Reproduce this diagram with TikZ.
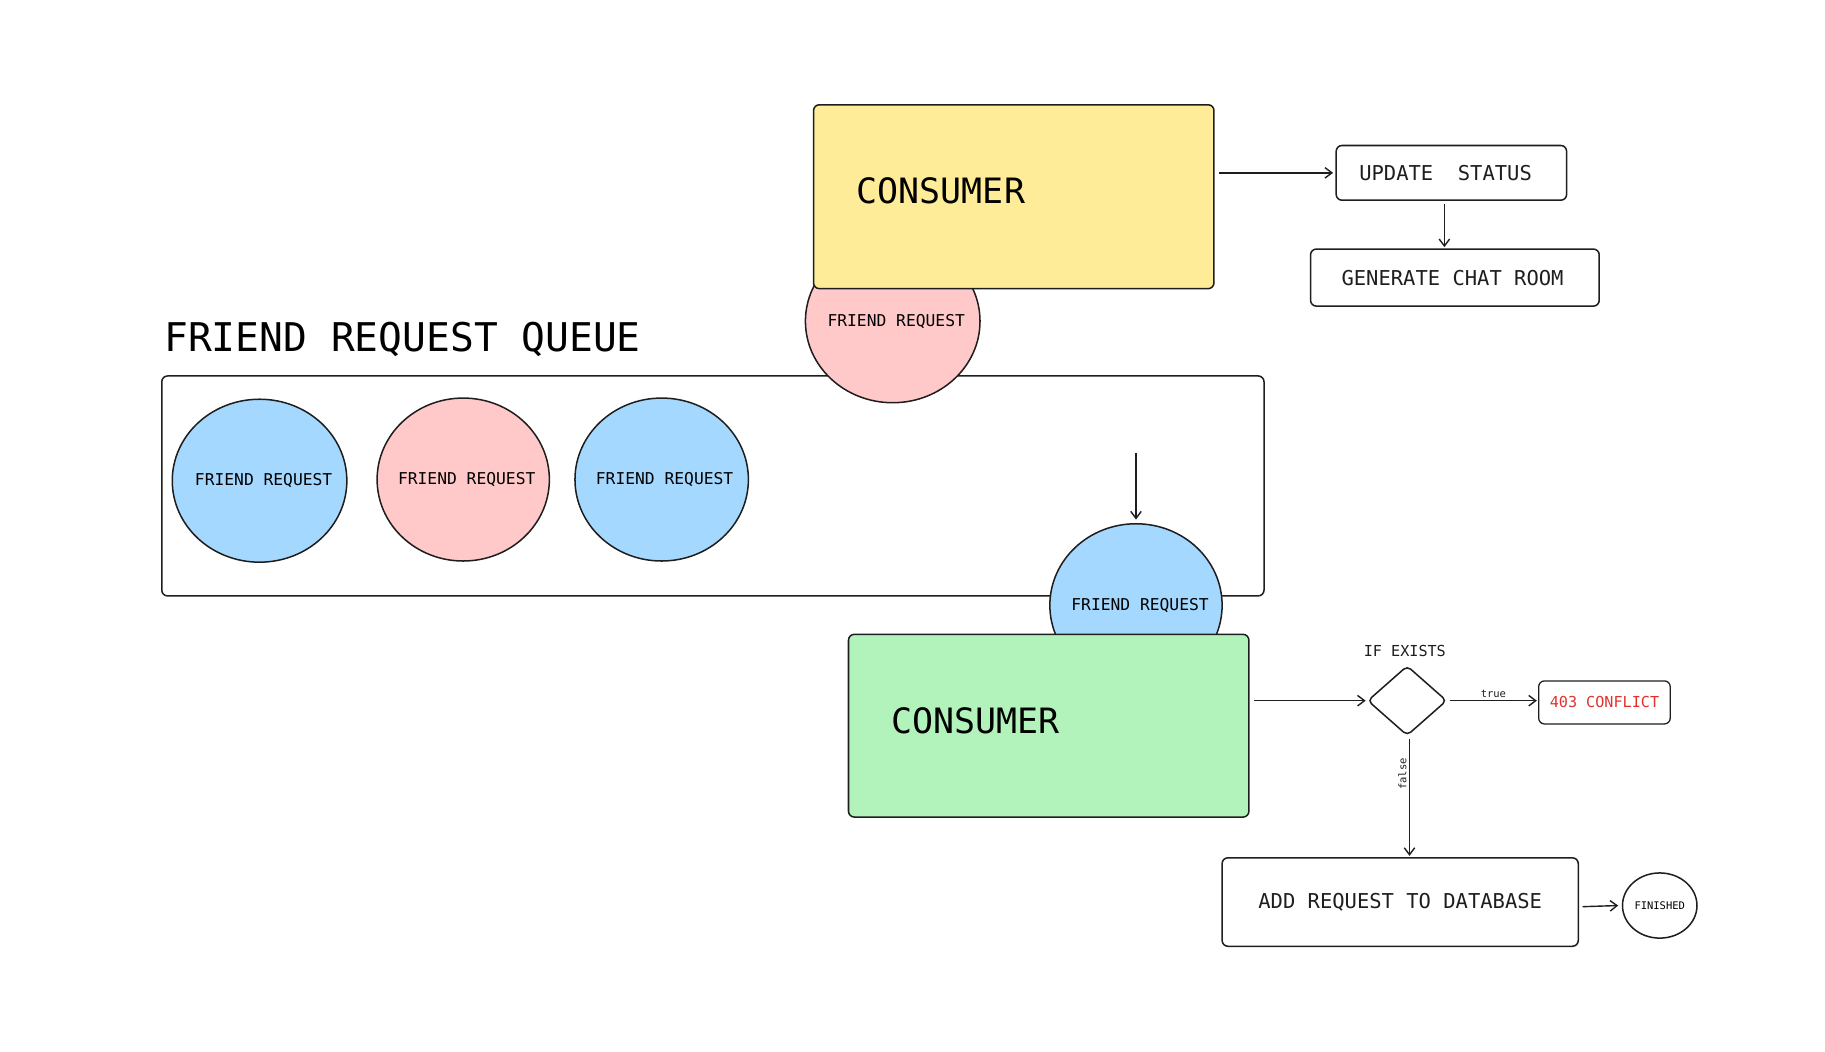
\documentclass[tikz,border=0pt]{standalone}
\usepackage{fontspec}
\setmainfont{DejaVu Sans Mono}
\usetikzlibrary{shapes.geometric,arrows.meta}
\definecolor{ink}{HTML}{1E1E1E}
\definecolor{qblue}{HTML}{A5D8FF}
\definecolor{qpink}{HTML}{FFC9C9}
\definecolor{qyellow}{HTML}{FFEC99}
\definecolor{qgreen}{HTML}{B2F2BB}
\definecolor{qred}{HTML}{E03131}
\begin{document}
\begin{tikzpicture}[x=1pt,y=-1pt,
  stroke/.style={draw=ink,line width=1.3pt},
  boxshape/.style={stroke,rectangle,rounded corners=5pt,inner sep=0pt,text=ink},
  bubble/.style={stroke,ellipse,inner sep=0pt,minimum height=140pt,text=black,
     font=\fontsize{14}{16}\selectfont},
  bigtext/.style={font=\fontsize{30}{36}\selectfont,text=black,inner sep=0pt},
  midtext/.style={font=\fontsize{17.6}{20}\selectfont},
  smalltext/.style={font=\fontsize{13}{15}\selectfont},
  tinytext/.style={font=\fontsize{9}{11}\selectfont,text=ink,inner sep=2pt},
  conn/.style={draw=ink,line width=1.2pt,-{Straight Barb[length=6pt,width=9pt]}}]
\useasboundingbox (0,0) rectangle (1568,903);

% queue container
\node[boxshape,minimum width=947pt,minimum height=189pt] (queue) at (612.5,417.5) {};
\node[font=\fontsize{34}{40}\selectfont,anchor=base west,inner sep=0pt] (title) at (141,302) {FRIEND REQUEST QUEUE};

% queued requests
\node[bubble,fill=qblue,minimum width=150pt] (r1) at (223,413) {\makebox[0pt]{\hspace{7pt}FRIEND REQUEST}};
\node[bubble,fill=qpink,minimum width=148pt] (r2) at (398,412) {\makebox[0pt]{\hspace{6pt}FRIEND REQUEST}};
\node[bubble,fill=qblue,minimum width=149pt] (r3) at (568.5,412) {\makebox[0pt]{\hspace{5pt}FRIEND REQUEST}};

% top consumer
\node[bubble,fill=qpink,minimum width=150pt] (rtop) at (767,276) {\makebox[0pt]{\hspace{6pt}FRIEND REQUEST}};
\node[boxshape,fill=qyellow,minimum width=344pt,minimum height=158pt] (cons1) at (871,169) {};
\node[bigtext,anchor=base west] (cons1t) at (736,175) {CONSUMER};

\node[boxshape,midtext,minimum width=198pt,minimum height=47pt] (upd) at (1247,148.5) {\hspace{-10pt}UPDATE\ \ STATUS};
\node[boxshape,midtext,minimum width=248pt,minimum height=49pt] (gen) at (1250,238.5) {\hspace{-4pt}GENERATE CHAT ROOM};

\draw[conn] ([xshift=4pt]cons1.east |- upd.west) -- ([xshift=-2pt]upd.west);
\draw[conn] ([xshift=-6pt,yshift=-3pt]upd.south) -- ([xshift=-6pt,yshift=1pt]upd.south |- gen.north);

% bottom consumer
\coordinate (dropstart) at (976,389);
\node[bubble,fill=qblue,minimum width=148pt] (rbot) at (976,520) {\makebox[0pt]{\hspace{7pt}FRIEND REQUEST}};
\draw[conn] (dropstart) -- ([yshift=3pt]rbot.north);
\node[boxshape,fill=qgreen,minimum width=344pt,minimum height=157pt] (cons2) at (901,623.5) {};
\node[bigtext,anchor=base west] (cons2t) at (766,630) {CONSUMER};

\node[stroke,diamond,rounded corners=4pt,inner sep=0pt,minimum width=68pt,minimum height=60pt] (dia) at (1209,602) {};
\node[smalltext,text=ink] (ifex) at (1207,559) {IF EXISTS};
\node[boxshape,smalltext,text=qred,line width=1.1pt,minimum width=113pt,minimum height=37pt] (conf) at (1378.5,603.5) {403 CONFLICT};
\node[boxshape,midtext,minimum width=306pt,minimum height=76pt] (db) at (1203,775) {\raisebox{-2pt}{ADD REQUEST TO DATABASE}};
\node[stroke,ellipse,inner sep=0pt,minimum width=64pt,minimum height=56pt,font=\fontsize{9}{11}\selectfont] (fin) at (1426,778) {FINISHED};

\draw[conn] ([xshift=4pt]cons2.east |- dia.west) -- ([xshift=-1pt]dia.west);
\draw[conn] ([xshift=2pt]dia.east) -- node[tinytext,above] (truelbl) {true} ([xshift=-1pt]dia.east -| conf.west);
\draw[conn] ([xshift=2pt,yshift=-2pt]dia.south) -- node[tinytext,pos=0.3,rotate=90,anchor=south] (falselbl) {false} ([xshift=2pt,yshift=1pt]dia.south |- db.north);
\draw[conn] ([xshift=3pt,yshift=-4pt]db.east) -- ([xshift=-3pt]fin.west);
\end{tikzpicture}
\end{document}
